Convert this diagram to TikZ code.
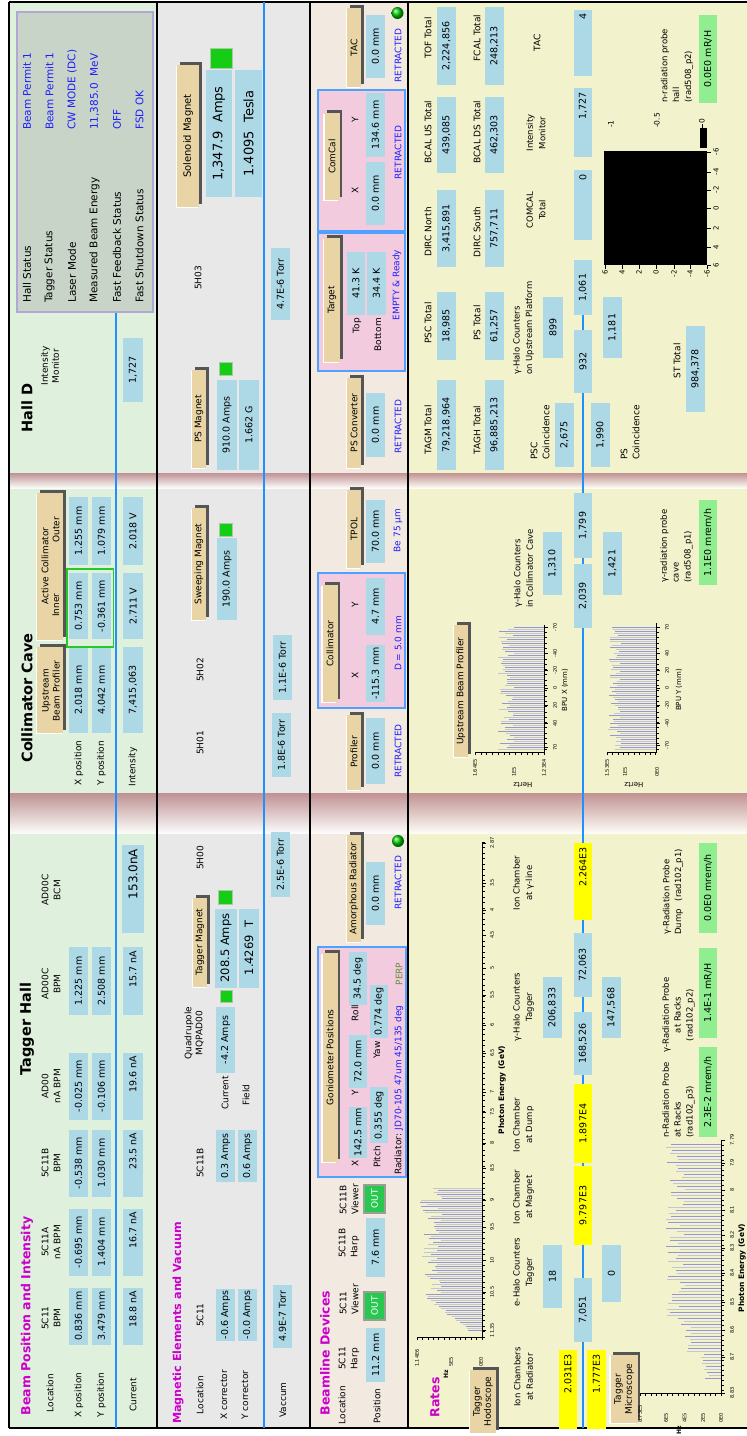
\documentclass[tikz,border=0pt]{standalone}
\usepackage{fontspec}
\setmainfont{DejaVu Sans}
\definecolor{pone}{RGB}{223,240,220}
\definecolor{ptwo}{RGB}{232,232,232}
\definecolor{pthree}{RGB}{242,233,225}
\definecolor{pfour}{RGB}{242,242,204}
\definecolor{vb}{RGB}{173,216,230}
\definecolor{yelc}{RGB}{255,255,0}
\definecolor{rg}{RGB}{144,238,144}
\definecolor{tanc}{RGB}{232,212,164}
\definecolor{shd}{RGB}{85,85,85}
\definecolor{mag}{RGB}{204,0,204}
\definecolor{bt}{RGB}{30,30,255}
\definecolor{perp}{RGB}{100,140,60}
\definecolor{beamc}{RGB}{30,144,255}
\definecolor{stc}{RGB}{200,212,200}
\definecolor{stb}{RGB}{178,166,214}
\definecolor{pk}{RGB}{242,204,222}
\definecolor{pkb}{RGB}{80,160,255}
\definecolor{sepc}{RGB}{185,130,135}
\definecolor{indg}{RGB}{20,205,20}
\definecolor{outg}{RGB}{40,200,80}
\definecolor{barA}{RGB}{150,150,215}
\definecolor{barB}{RGB}{196,196,214}
\newcommand\Fl{\fontsize{9}{11}\selectfont}
\newcommand\Fh{\fontsize{9}{12}\selectfont}
\newcommand\Fv{\fontsize{9.5}{11}\selectfont}
\newcommand\Ft{\fontsize{12.5}{14}\selectfont\bfseries}
\newcommand\Fsec{\fontsize{14.5}{16}\selectfont\bfseries}
\newcommand\Fst{\fontsize{10.5}{12}\selectfont}
\newcommand\Fa{\fontsize{5}{6}\selectfont}
\newcommand\Fr{\fontsize{8.5}{12.5}\selectfont}
\newcommand\Fp{\fontsize{8.5}{11.8}\selectfont}
\newcommand\Fbig{\fontsize{12}{14}\selectfont}
\newcommand\VB[6][]{\node[val,minimum width=#5pt,#1] (#2) at (#3,#4) {#6};}
\newcommand\LB[5][]{\node[lab,#1] (#2) at (#3,#4) {#5};}
\newcommand\BT[6][]{\node[btn,minimum width=#5pt,#1] (#2) at (#3,#4) {#6};}
\begin{document}
\begin{tikzpicture}[x=1pt,y=-1pt,
  lab/.style={rotate=90,inner sep=0pt,font=\Fl,align=center},
  val/.style={rotate=90,fill=vb,inner sep=1.5pt,minimum height=19pt,font=\Fv},
  ybox/.style={fill=yelc},
  gbox/.style={fill=rg},
  rj/.style={text width=#1,align=right},
  btn/.style={rotate=90,fill=tanc,inner sep=1pt,font=\Fl,align=center,minimum height=14pt,
     preaction={fill=white,transform canvas={shift={(-1.3pt,-1.3pt)}}},
     preaction={fill=shd,transform canvas={shift={(2.6pt,2.6pt)}}}},
  ttl/.style={rotate=90,inner sep=0pt,font=\Ft,text=mag},
  sect/.style={rotate=90,inner sep=0pt,font=\Fsec},
  blu/.style={lab,text=bt},
  ind/.style={rotate=90,fill=indg,draw={rgb,255:red,170;green,200;blue,170},line width=0.8pt,inner sep=0pt},
  outb/.style={rotate=90,fill=outg,text=white,font=\Fl,draw={rgb,255:red,150;green,160;blue,150},line width=1.2pt,inner sep=0pt},
  beam/.style={draw=beamc,line width=2.5pt},
  pinkbox/.style={fill=pk,draw=pkb,line width=1.2pt},
  border/.style={draw=black,line width=2.5pt},
  tk/.style={line width=0.5pt},
  ax/.style={rotate=90,inner sep=0pt,font=\Fa},
  axl/.style={rotate=90,inner sep=0pt,font=\fontsize{7.5}{9}\selectfont\bfseries},
  bar/.style={line width=1pt}
]
\useasboundingbox (0,0) rectangle (747,1436);
% ---------- panel backgrounds
\fill[pone] (9,2) rectangle (157,1428);
\fill[ptwo] (157,2) rectangle (310,1428);
\fill[pthree] (310,2) rectangle (408,1428);
\fill[pfour] (408,2) rectangle (747,1428);
% ---------- section separators
\shade[top color=sepc,bottom color=white,opacity=0.85] (9,793) rectangle (747,833);
\shade[top color=sepc,bottom color=white,opacity=0.85] (9,473) rectangle (747,488);
% ---------- borders
\draw[border] (9,2) -- (747,2);
\draw[border] (9,1428) -- (747,1428);
\draw[border] (9,2) -- (9,1428);
\draw[border] (157,2) -- (157,1428);
\draw[border] (310,2) -- (310,1428);
\draw[border] (408,2) -- (408,1428);
% ---------- beam lines
\coordinate (bA1) at (116,312); \coordinate (bA2) at (116,1428);
\coordinate (bB1) at (264,2);   \coordinate (bB2) at (264,1428);
\coordinate (bC1) at (583,315); \coordinate (bC2) at (583,1428);
\draw[beam] (bA1) -- (bA2);
\draw[beam] (bB1) -- (bB2);
\draw[beam] (bC1) -- (bC2);

% ================= PANEL 1 : Beam Position and Intensity
\node[ttl] (t1) at (27,1316) {Beam Position and Intensity};
\node[sect] (s1) at (27,1029) {Tagger Hall};
\node[sect] (s2) at (27,698) {Collimator Cave};
\node[sect] (s3) at (27,408) {Hall D};
\LB{l1}{50}{1393}{Location}
\LB{l2}{79}{1395}{X position}
\LB{l3}{101.5}{1395}{Y position}
\LB{l4}{133}{1395}{Current}
\LB[font=\Fh]{h1}{51}{1318}{5C11\\BPM}
\LB[font=\Fh]{h2}{51}{1242}{5C11A\\nA BPM}
\LB[font=\Fh]{h3}{51}{1163}{5C11B\\BPM}
\LB[font=\Fh]{h4}{51}{1086}{AD00\\nA BPM}
\LB[font=\Fh]{h5}{51}{984}{AD00C\\BPM}
\LB[font=\Fh]{h6}{51}{890}{AD00C\\BCM}
\VB{x1}{78.5}{1316}{57}{0.836 mm}
\VB{x2}{78.5}{1242}{67}{-0.695 mm}
\VB{x3}{78.5}{1163}{67}{-0.538 mm}
\VB{x4}{78.5}{1086}{67}{-0.025 mm}
\VB{x5}{78.5}{981}{68}{1.225 mm}
\VB{y1}{101.5}{1316}{57}{3.479 mm}
\VB{y2}{101.5}{1242}{67}{1.404 mm}
\VB{y3}{101.5}{1163}{67}{1.030 mm}
\VB{y4}{101.5}{1086}{67}{-0.106 mm}
\VB{y5}{101.5}{981}{68}{2.508 mm}
\VB[minimum height=20pt,rj=50pt]{c1}{133}{1316}{57}{18.8 nA}
\VB[minimum height=20pt,rj=60pt]{c2}{133}{1242}{67}{16.7 nA}
\VB[minimum height=20pt,rj=60pt]{c3}{133}{1163}{67}{23.5 nA}
\VB[minimum height=20pt,rj=60pt]{c4}{133}{1086}{67}{19.6 nA}
\VB[minimum height=20pt,rj=60pt]{c5}{133}{981}{68}{15.7 nA}
\VB[minimum height=22pt,font=\Fbig,rj=80pt]{c6}{133}{889}{88}{153.0nA}
% collimator cave
\BT[minimum height=26pt]{cb1}{50}{690}{86}{}
\LB{cb1t}{51}{691}{Upstream\\Beam Profiler}
\BT[minimum height=26pt]{cb2}{50}{566}{147}{}
\LB{cb2a}{45}{566}{Active Collimator}
\LB{cb2b}{56}{605}{Inner}
\LB{cb2c}{56}{530}{Outer}
\LB{l5}{79}{763}{X position}
\LB{l6}{101.5}{763}{Y position}
\LB{l7}{133}{767}{Intensity}
\VB{cx1}{78.5}{690}{86}{2.018 mm}
\VB{cy1}{101.5}{690}{86}{4.042 mm}
\VB[minimum height=20pt]{ci1}{133}{690}{86}{7,415,063}
\VB{cx2}{78.5}{606}{66}{0.753 mm}
\VB{cy2}{101.5}{606}{66}{-0.361 mm}
\VB[minimum height=20pt]{ci2}{133}{606}{66}{2.711 V}
\VB{cx3}{78.5}{531}{68}{1.255 mm}
\VB{cy3}{101.5}{531}{68}{1.079 mm}
\VB[minimum height=20pt]{ci3}{133}{531}{68}{2.018 V}
\draw[draw={rgb,255:red,40;green,200;blue,40},line width=1.3pt] (67,569) rectangle (113.5,647);
% hall D
\LB{hm}{50}{366}{Intensity\\Monitor}
\VB[minimum height=20pt]{hv}{133}{370}{64}{1,727}
\draw[fill=stc,draw=stb,line width=2pt] (17,12) rectangle (153,312);
\LB[anchor=west,font=\Fst]{st1}{27}{303}{Hall Status}
\LB[anchor=west,font=\Fst]{st2}{49.5}{303}{Tagger Status}
\LB[anchor=west,font=\Fst]{st3}{72}{303}{Laser Mode}
\LB[anchor=west,font=\Fst]{st4}{94.5}{303}{Measured Beam Energy}
\LB[anchor=west,font=\Fst]{st5}{117}{303}{Fast Feedback Status}
\LB[anchor=west,font=\Fst]{st6}{139.5}{303}{Fast Shutdown Status}
\LB[anchor=west,font=\Fst,text=bt]{sv1}{27}{130}{Beam Permit 1}
\LB[anchor=west,font=\Fst,text=bt]{sv2}{49.5}{130}{Beam Permit 1}
\LB[anchor=west,font=\Fst,text=bt]{sv3}{72}{130}{CW MODE (DC)}
\LB[anchor=west,font=\Fst,text=bt]{sv4}{94.5}{130}{11,385.0\ \ MeV}
\LB[anchor=west,font=\Fst,text=bt]{sv5}{117}{130}{OFF}
\LB[anchor=west,font=\Fst,text=bt]{sv6}{139.5}{130}{FSD OK}

% ================= PANEL 2 : Magnetic Elements and Vacuum
\node[ttl,font=\fontsize{11.2}{13}\selectfont\bfseries] (t2) at (178,1323) {Magnetic Elements and Vacuum};
\LB{m1}{200}{1395}{Location}
\LB{m2}{224}{1395}{X corrector}
\LB{m3}{245}{1395}{Y corrector}
\LB{m4}{283}{1400}{Vaccum}
\LB{m5}{200}{1315}{5C11}
\VB{mv1}{225.5}{1315}{50}{-0.6 Amps}
\VB{mv2}{247.5}{1315}{50}{-0.0 Amps}
\LB{m6}{200}{1163}{5C11B}
\VB{mv3}{225.5}{1156}{52}{0.3 Amps}
\VB{mv4}{247.5}{1156}{52}{0.6 Amps}
\VB{mv5}{282.5}{1316}{63}{4.9E-7 Torr}
\LB{m7}{194}{1033}{Quadrupole\\MQPAD00}
\VB{mv6}{225.5}{1040}{66}{-4.2 Amps}
\node[ind,minimum size=12pt] (gi1) at (226,996) {};
\LB{m8}{225}{1093}{Current}
\LB{m9}{246}{1095}{Field}
\BT{tm}{200}{942}{89}{Tagger Magnet}
\node[ind,minimum size=14pt] (gi2) at (225,897) {};
\VB[minimum height=22pt,font=\fontsize{11.5}{13}\selectfont]{mv7}{226}{948}{79}{208.5 Amps}
\VB[minimum height=20pt,font=\fontsize{11.5}{13}\selectfont]{mv8}{249}{948}{79}{1.4269\ \ T}
\LB{m10}{200}{858}{5H00}
\VB{mv9}{280.5}{864.5}{65}{2.5E-6 Torr}
\LB{m11}{200}{743}{5H01}
\VB{mv10}{281.5}{745}{64}{1.8E-6 Torr}
\LB{m12}{200}{670}{5H02}
\VB{mv11}{282.5}{667.5}{65}{1.1E-6 Torr}
\BT{sm}{199}{564}{112}{Sweeping Magnet}
\node[ind,minimum size=13pt] (gi3) at (226,529.5) {};
\VB[minimum height=20pt]{mv12}{227}{579}{82}{190.0 Amps}
\BT{pm}{199}{419}{98}{PS Magnet}
\node[ind,minimum size=13pt] (gi4) at (226,368.5) {};
\VB[minimum height=20pt]{mv13}{227}{425}{90}{910.0 Amps}
\VB[minimum height=20pt]{mv14}{249}{425}{90}{1.662 G}
\VB{mv15}{280.5}{284}{72}{4.7E-6 Torr}
\LB{m13}{198}{278}{5H03}
\BT[minimum height=22pt,font=\fontsize{10}{12}\selectfont]{solm}{188}{136}{142}{Solenoid Magnet}
\node[ind,minimum width=20pt,minimum height=22pt] (gi5) at (221,58) {};
\VB[minimum height=26pt,font=\fontsize{13}{15}\selectfont]{mv16}{219}{133.5}{127}{1,347.9\ \ Amps}
\VB[minimum height=27pt,font=\fontsize{13}{15}\selectfont]{mv17}{248.5}{133.5}{127}{1.4095\ \ Tesla}

% ================= PANEL 3 : Beamline Devices
\node[ttl] (t3) at (325,1353) {Beamline Devices};
\LB{d1}{342}{1405}{Location}
\LB{d2}{377}{1406}{Position}
\LB[anchor=west,align=left,font=\Fh]{dh1}{349}{1370}{5C11\\Harp}
\LB[anchor=west,align=left,font=\Fh]{dh2}{349}{1315}{5C11\\Viewer}
\LB[anchor=west,align=left,font=\Fh]{dh3}{349}{1258}{5C11B\\Harp}
\LB[anchor=west,align=left,font=\Fh]{dh4}{349}{1215}{5C11B\\Viewer}
\VB{dv1}{375.5}{1355}{54}{11.2 mm}
\node[outb,minimum width=28pt,minimum height=21pt] (ob1) at (374.5,1306) {OUT};
\VB{dv2}{375.5}{1247.5}{59}{7.6 mm}
\node[outb,minimum width=28pt,minimum height=21pt] (ob2) at (374.5,1199) {OUT};
% goniometer
\draw[pinkbox] (318,947) rectangle (406,1177);
\BT[minimum height=15pt]{gon}{330}{1057.5}{209}{Goniometer Positions}
\LB{gx}{355}{1163}{X}
\VB[minimum height=18pt]{gv1}{358}{1132.5}{51}{142.5 mm}
\LB{gy}{355}{1093}{Y}
\VB[minimum height=18pt]{gv2}{358}{1061.5}{53}{72.0 mm}
\LB{gr}{355}{1013}{Roll}
\VB[minimum height=18pt]{gv3}{358}{978.5}{53}{34.5 deg}
\LB{gp}{377}{1157}{Pitch}
\VB[minimum height=18pt]{gv4}{379}{1115}{56}{0.355 deg}
\LB{gw}{377}{1050}{Yaw}
\VB[minimum height=18pt]{gv5}{379}{1011.5}{53}{0.774 deg}
\LB[anchor=west]{grad}{399}{1175}{Radiator: \textcolor{bt}{JD70-105 47um 45/135 deg}}
\LB[text=perp]{gperp}{399}{974}{PERP}
% amorphous
\BT{amr}{354}{888.5}{107}{Amorphous Radiator}
\VB{dv3}{375.5}{893.5}{63}{0.0 mm}
\node[blu] (dr1) at (398,882.5) {RETRACTED};
\shade[ball color=green!80!black] (398,841) circle (6pt);
% profiler
\BT{prf}{354}{752}{75}{Profiler}
\VB{dv4}{375.5}{751}{66}{0.0 mm}
\node[blu] (dr2) at (398,751) {RETRACTED};
% collimator
\draw[pinkbox] (318,573) rectangle (405,708);
\BT[minimum height=15pt]{col}{330}{643.5}{117}{Collimator}
\LB{cxl}{355}{675}{X}
\LB{cyl}{355}{605}{Y}
\VB{dv5}{375.5}{673.5}{57}{-115.3 mm}
\VB{dv6}{375.5}{606.5}{57}{4.7 mm}
\node[blu] (dr3) at (398,643.5) {D = 5.0 mm};
% TPOL
\BT{tpol}{354}{529}{78}{TPOL}
\VB{dv7}{375.5}{531.5}{63}{70.0 mm}
\node[blu] (dr4) at (398,530.5) {Be 75 µm};
% PS converter
\BT{psc}{354}{423}{90}{PS Converter}
\VB{dv8}{375.5}{425}{64}{0.0 mm}
\node[blu] (dr5) at (398,426.5) {RETRACTED};
% target
\draw[pinkbox] (318,233) rectangle (405,371);
\BT[minimum height=16pt]{tgt}{332}{300}{124}{Target}
\LB[anchor=east]{ttop}{357}{318}{Top}
\LB[anchor=east]{tbot}{378}{318}{Bottom}
\VB[minimum height=18pt]{dv9}{356}{283.5}{63}{41.3 K}
\VB{dv10}{376.5}{283.5}{63}{34.4 K}
\node[blu] (dr6) at (397,285) {EMPTY \& Ready};
% comcal
\draw[pinkbox] (318,90) rectangle (405,231);
\BT[minimum height=15pt]{ccal}{332}{156.5}{87}{ComCal}
\LB{ccx}{355}{190}{X}
\LB{ccy}{355}{120}{Y}
\VB{dv11}{375.5}{193.5}{63}{0.0 mm}
\VB{dv12}{375.5}{125}{64}{134.6 mm}
\node[blu] (dr7) at (398,152.5) {RETRACTED};
% TAC
\BT{tac}{354}{47.5}{79}{TAC}
\VB{dv13}{375.5}{46.5}{63}{0.0 mm}
\node[blu] (dr8) at (398,55.5) {RETRACTED};
\shade[ball color=green!80!black] (397.5,13) circle (6pt);

% ================= PANEL 4 : Rates
\node[ttl] (t4) at (435,1397.5) {Rates};
\BT[minimum height=26pt]{thod}{483}{1401.5}{63}{Tagger\\Hodoscope}
% hodoscope histogram
\pgfmathsetseed{11}
\foreach \i in {0,...,71}{
  \pgfmathsetmacro\yy{1330-2*\i}
  \pgfmathsetmacro\ll{\yy>1292 ? 8+(1332-\yy)*1.25+5*rnd : 40+22*rnd}
  \pgfmathtruncatemacro\cc{mod(\i,2)}
  \ifnum\cc=0 \def\bc{barA}\else\def\bc{barB}\fi
  \draw[bar,\bc] (482,\yy) -- ++(-\ll,0);
}
\draw[tk] (482,842) -- (482,1337) -- (417,1337);
\foreach \t in {842,847.5,...,1337} \draw[tk] (482,\t) -- (484.5,\t);
\foreach \t in {417,422.4,...,483} \draw[tk] (\t,1337) -- (\t,1340);
\foreach \p/\s in {1330/11.35,1292/10.5,1260/10,1227/9.5,1200/9,1168/8.5,1143/8,1112/7.5,1092/7,1053/6.5,1025/6,995/5.5,968/5,935/4.5,910/4,883/3.5,843/2.87}{
  \draw[tk] (482,\p) -- (486,\p);
  \node[ax] (he\p) at (492,\p) {\s};
}
\node[ax,anchor=west] (hz1) at (417,1367) {1.14E6};
\node[ax,anchor=west] (hz2) at (451,1367) {5E5};
\node[ax,anchor=west] (hz3) at (481,1367) {0E0};
\node[axl,font=\fontsize{6}{7}\selectfont\bfseries] (hz4) at (446,1374) {Hz};
\node[axl] (hpe) at (502,1090) {Photon Energy (GeV)};
% microscope
\BT[minimum height=27pt]{tmic}{624}{1389}{68}{Tagger\\Microscope}
\pgfmathsetseed{5}
\foreach \i in {0,...,78}{
  \pgfmathsetmacro\yy{1378-3*\i}
  \pgfmathsetmacro\ll{\yy>1352 ? 12+8*rnd : (\yy>1320 ? 28+12*rnd : 36+20*rnd)}
  \pgfmathtruncatemacro\cc{mod(\i,2)}
  \ifnum\cc=0 \def\bc{barA}\else\def\bc{barB}\fi
  \draw[bar,\bc] (721,\yy) -- ++(-\ll,0);
}
\draw[tk] (721,1140) -- (721,1393) -- (640,1393);
\foreach \t in {1140,1145,...,1393} \draw[tk] (721,\t) -- (723.5,\t);
\foreach \t in {640,645.4,...,722} \draw[tk] (\t,1393) -- (\t,1396);
\foreach \p/\s in {1393/8.83,1357/8.7,1330/8.6,1302/8.5,1273/8.4,1248/8.3,1235/8.2,1210/8.1,1190/8,1163/7.9,1140/7.79}{
  \draw[tk] (721,\p) -- (725,\p);
  \node[ax] (me\p) at (732,\p) {\s};
}
\node[ax,anchor=west] (mz1) at (640,1423) {8.73E5};
\node[ax,anchor=west] (mz2) at (666,1423) {6E5};
\node[ax,anchor=west] (mz3) at (684.5,1423) {4E5};
\node[ax,anchor=west] (mz4) at (703,1423) {2E5};
\node[ax,anchor=west] (mz5) at (721,1423) {0E0};
\node[axl,font=\fontsize{6}{7}\selectfont\bfseries] (mz6) at (679,1430) {Hz};
\node[axl] (mpe) at (742,1268) {Photon Energy (GeV)};
% tagger hall labels and boxes
\LB[font=\Fr]{r1}{523.5}{1377}{Ion Chambers\\at Radiator}
\LB[font=\Fr]{r2}{523.5}{1272}{e-Halo Counters\\Tagger}
\LB[font=\Fr]{r3}{523.5}{1197}{Ion Chamber\\at Magnet}
\LB[font=\Fr]{r4}{523.5}{1125}{Ion Chamber\\at Dump}
\LB[font=\Fr]{r5}{523.5}{1007}{γ-Halo Counters\\Tagger}
\LB[font=\Fr]{r6}{523.5}{883}{Ion Chamber\\at γ-line}
\VB[ybox,minimum height=18pt,rj=70pt]{rv1}{568}{1389.5}{79}{2.031E3}
\VB[ybox,rj=70pt]{rv2}{596.5}{1389.5}{79}{1.777E3}
\VB{rv3}{552.5}{1276.5}{63}{18}
\VB[minimum height=18pt]{rv4}{583}{1310}{64}{7,051}
\VB{rv5}{611.5}{1273.5}{57}{0}
\VB[ybox,minimum height=18pt]{rv6}{583}{1205.5}{79}{9.797E3}
\node[inner sep=0pt,font=\fontsize{7}{7}\selectfont] (ast) at (583,1162) {*};
\VB[ybox,minimum height=18pt]{rv7}{583}{1123.5}{79}{1.897E4}
\VB{rv8}{552.5}{1007.5}{61}{206,833}
\VB[minimum height=18pt]{rv9}{583}{1043.5}{63}{168,526}
\VB[minimum height=18pt]{rv10}{583}{965}{64}{72,063}
\VB{rv11}{611.5}{1007.5}{61}{147,568}
\VB[ybox,minimum height=18pt,rj=68pt]{rv12}{583}{881.5}{77}{2.264E3}
\LB[font=\Fp,anchor=west,align=left]{r7}{678.5}{1138}{n-Radiation Probe\\at Racks\\(rad102\_p3)}
\VB[gbox,minimum height=18pt]{rv13}{708}{1092}{90}{2.3E-2 mrem/h}
\LB[font=\Fp]{r8}{678.5}{1015}{γ-Radiation Probe\\at Racks\\(rad102\_p2)}
\VB[gbox,minimum height=18pt]{rv14}{708}{993}{90}{1.4E-1 mR/H}
\LB[font=\Fp,anchor=west,align=left]{r9}{673}{935}{γ-Radiation Probe\\Dump\ \ \ (rad102\_p1)}
\VB[gbox,minimum height=18pt]{rv15}{708}{888}{90}{0.0E0 mrem/h}
% collimator cave rates
\BT{ubp}{461}{691}{132}{Upstream Beam Profiler}
\pgfmathsetseed{23}
\foreach \i in {0,...,61}{
  \pgfmathsetmacro\yy{627+2*\i}
  \pgfmathsetmacro\ll{30+16*rnd}
  \pgfmathtruncatemacro\cc{mod(\i,2)}
  \ifnum\cc=0 \def\bc{barA}\else\def\bc{barB}\fi
  \draw[bar,\bc] (544,\yy) -- ++(-\ll,0);
}
\foreach \i in {0,...,61}{
  \pgfmathsetmacro\yy{627+2*\i}
  \pgfmathsetmacro\ll{35+13*rnd}
  \pgfmathtruncatemacro\cc{mod(\i,2)}
  \ifnum\cc=0 \def\bc{barA}\else\def\bc{barB}\fi
  \draw[bar,\bc] (656,\yy) -- ++(-\ll,0);
}
\draw[tk] (544,625) -- (544,752) -- (475,752);
\draw[tk] (656,623) -- (656,752) -- (607,752);
\foreach \t in {627,632.3,...,752} {\draw[tk] (544,\t) -- (546.5,\t); \draw[tk] (656,\t) -- (658.5,\t);}
\foreach \t in {475,480.75,...,545} \draw[tk] (\t,752) -- (\t,755);
\foreach \t in {607,612.4,...,657} \draw[tk] (\t,752) -- (\t,755);
\foreach \p/\s in {627/-70,653/-40,670/-20,688/0,705/20,723/40,747/70}{
  \draw[tk] (544,\p) -- (548,\p);
  \node[ax] (bx\p) at (555,\p) {\s};
}
\foreach \p/\s in {627/70,653/40,670/20,688/0,705/-20,723/-40,745/-70}{
  \draw[tk] (656,\p) -- (660,\p);
  \node[ax] (by\p) at (667,\p) {\s};
}
\node[ax,anchor=west] (bxz1) at (475,777) {1.64E5};
\node[ax,anchor=west] (bxz2) at (514,777) {1E5};
\node[ax,anchor=west] (bxz3) at (544,777) {1.23E4};
\node[ax,anchor=west] (byz1) at (607,777) {1.53E5};
\node[ax,anchor=west] (byz2) at (625,777) {1E5};
\node[ax,anchor=west] (byz3) at (657,777) {0E0};
\node[inner sep=0pt,rotate=180,font=\fontsize{7}{8}\selectfont] (bxh) at (523,785) {Hertz};
\node[inner sep=0pt,rotate=180,font=\fontsize{7}{8}\selectfont] (byh) at (634,785) {Hertz};
\node[rotate=90,inner sep=0pt,font=\fontsize{7}{8}\selectfont] (bxl) at (565,690) {BPU X (mm)};
\node[rotate=90,inner sep=0pt,font=\fontsize{7}{8}\selectfont] (byl) at (679,690) {BPU Y (mm)};
\LB[font=\Fr,anchor=west,align=left]{r10}{523.5}{608}{γ-Halo Counters\\in Collimator Cave}
\VB{rv16}{552.5}{563.5}{63}{1,310}
\VB[minimum height=18pt]{rv17}{583}{596}{64}{2,039}
\VB[minimum height=18pt]{rv18}{583}{525.5}{65}{1,799}
\VB{rv19}{612.5}{563.5}{63}{1,421}
\LB[font=\Fp,anchor=west,align=left]{r11}{676.5}{583}{γ-radiation probe\\cave\\(rad508\_p1)}
\VB[gbox,minimum height=18pt]{rv20}{708}{542.5}{85}{1.1E0 mrem/h}
% hall D rates
\LB{q1}{428}{430}{TAGM Total}
\LB{q2}{477}{430}{TAGH Total}
\LB{q3}{428}{323}{PSC Total}
\LB{q4}{477}{323}{PS Total}
\LB{q5}{428}{232}{DIRC North}
\LB{q6}{477}{232}{DIRC South}
\LB{q7}{428}{132}{BCAL US Total}
\LB{q8}{477}{132}{BCAL DS Total}
\LB{q9}{428}{38}{TOF Total}
\LB{q10}{477}{38}{FCAL Total}
\VB{qv1}{446.5}{425}{90}{79,218,964}
\VB{qv2}{494.5}{425}{90}{96,885,213}
\VB{qv3}{446.5}{326}{68}{18,985}
\VB{qv4}{494.5}{326}{68}{61,257}
\VB{qv5}{446.5}{228.5}{77}{3,415,891}
\VB{qv6}{494.5}{228.5}{77}{757,711}
\VB{qv7}{446.5}{135}{76}{439,085}
\VB{qv8}{494.5}{135}{76}{462,303}
\VB{qv9}{446.5}{46}{78}{2,224,856}
\VB{qv10}{494.5}{46}{78}{248,213}
\LB[font=\Fh,anchor=west,align=left]{q11}{540}{460}{PSC\\Coincidence}
\VB{qv11}{564.5}{435}{64}{2,675}
\VB{qv12}{600.5}{435}{64}{1,990}
\LB[font=\Fh,anchor=west,align=left]{q12}{630}{460}{PS\\Coincidence}
\VB[minimum height=18pt]{qv13}{583}{361.5}{63}{932}
\LB[font=\Fr,anchor=west,align=left]{q13}{523.5}{375}{γ-Halo Counters\\on Upstream Platform}
\VB[minimum height=20pt]{qv14}{553}{327.5}{61}{899}
\VB{qv15}{612.5}{327.5}{61}{1,181}
\VB[minimum height=18pt]{qv16}{583}{287.5}{55}{1,061}
\LB{q14}{677}{361}{ST Total}
\VB{qv17}{695.5}{369}{86}{984,378}
\LB[font=\Fr]{q15}{536}{210}{COMCAL\\Total}
\VB[minimum height=18pt,rj=62pt]{qv18}{583}{205}{70}{0}
\LB[font=\Fr]{q16}{536}{133}{Intensity\\Monitor}
\VB[minimum height=18pt,rj=60pt]{qv19}{583}{122.5}{69}{1,727}
\LB{q17}{537}{43}{TAC}
\VB[minimum height=18pt,rj=60pt]{qv20}{583}{43}{66}{4}
\LB[font=\Fp,anchor=west,align=left]{q18}{677}{103}{n-radiation probe\\hall\\(rad508\_p2)}
\VB[gbox,minimum height=18pt]{qv21}{708}{59}{88}{0.0E0 mR/H}
% black 2d plot
\fill[black] (604,151) rectangle (707,265);
\foreach \p/\s in {152/-6,172/-4,190/-2,208/0,228/2,247/4,265/6}{
  \draw[tk] (707,\p) -- (711,\p);
  \node[rotate=90,inner sep=0pt,font=\fontsize{7}{8}\selectfont] (sq\p) at (716,\p) {\s};
}
\foreach \p/\s in {605/6,622/4,639/2,656/0,674/-2,690/-4,707/-6}{
  \draw[tk] (\p,265) -- (\p,269);
  \node[rotate=90,inner sep=0pt,anchor=east,font=\fontsize{7}{8}\selectfont] (sb\p) at (\p,270) {\s};
}
\fill[black] (700,128) rectangle (707,148);
\node[rotate=90,inner sep=0pt,anchor=west,font=\fontsize{7.5}{8}\selectfont] (cb1l) at (611,128) {-1};
\node[rotate=90,inner sep=0pt,anchor=west,font=\fontsize{7.5}{8}\selectfont] (cb2l) at (657,128) {-0.5};
\draw[tk] (702,128) -- (702,124);
\node[rotate=90,inner sep=0pt,anchor=west,font=\fontsize{7.5}{8}\selectfont] (cb3l) at (702,124) {0};
\end{tikzpicture}
\end{document}
